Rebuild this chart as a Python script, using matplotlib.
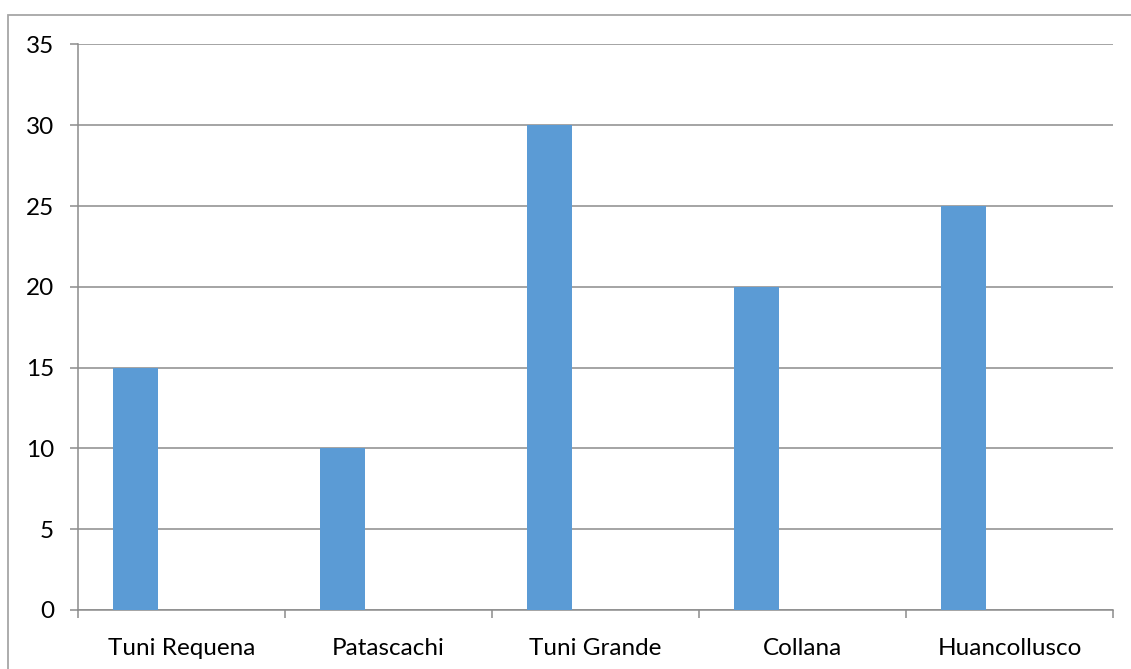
import matplotlib.pyplot as plt
import numpy as np
from matplotlib.patches import Rectangle

# data
categories = ["Tuni Requena", "Patascachi", "Tuni Grande", "Collana", "Huancollusco"]
values = [15, 10, 30, 20, 25]

plt.rcParams['font.family'] = ['Lato', 'DejaVu Sans']

fig = plt.figure(figsize=(11.31, 6.69), dpi=100)
ax = fig.add_axes([0.0687, 0.0882, 0.9155, 0.8453])

x = np.arange(len(categories))
ax.bar(x - 0.222, values, width=0.219, color='#5B9BD5', zorder=3)

ax.set_xlim(-0.5, len(categories) - 0.5)
ax.set_ylim(0, 35)
ax.set_yticks(range(0, 36, 5))
ax.grid(axis='y', color='#8C8C8C', linewidth=1.1, zorder=0)

# category labels centred, tick marks on the boundaries
ax.set_xticks(x)
ax.set_xticklabels(categories)
ax.set_xticks(np.arange(-0.5, len(categories)), minor=True)
ax.tick_params(axis='x', which='major', length=0, pad=20, labelsize=17.5)
ax.tick_params(axis='x', which='minor', length=6, width=1.1, color='#8C8C8C', direction='out')
ax.tick_params(axis='y', length=6, width=1.1, color='#8C8C8C', pad=11, labelsize=17.5)

for side in ['top', 'right']:
    ax.spines[side].set_visible(False)
for side in ['left', 'bottom']:
    ax.spines[side].set_color('#8C8C8C')
    ax.spines[side].set_linewidth(1.1)

# chart area border (cut off at right and bottom)
fig.patches.append(Rectangle((8 / 1131, -0.1), 1.2, (669 - 15) / 669 + 0.1,
                             transform=fig.transFigure, fill=False,
                             edgecolor='#A6A6A6', linewidth=1.3))

fig.savefig('out.png', dpi=100)
